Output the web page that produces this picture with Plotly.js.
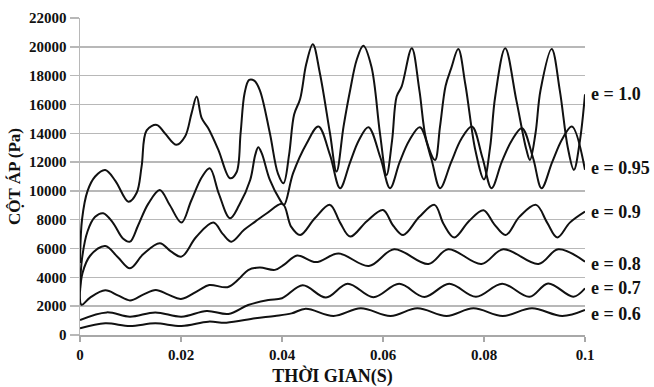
<!DOCTYPE html>
<html>
<head>
<meta charset="utf-8">
<script src="https://cdn.plot.ly/plotly-3.0.1.min.js"></script>
<style>html,body{margin:0;padding:0;background:#fff;}#chart{width:654px;height:387px;}</style>
</head>
<body>
<div id="chart"></div>
<script>
// ---- data ----
var seriesNames = ['e = 1.0', 'e = 0.95', 'e = 0.9', 'e = 0.8', 'e = 0.7', 'e = 0.6'];

var x10 = [0,0.0004,0.0015,0.003,0.005,0.007,0.0096,0.0112,0.0122,0.0132,0.0152,0.0168,0.0191,0.0208,0.0221,0.0231,0.0241,0.0254,0.0274,0.0297,0.031,0.0318,0.0326,0.0335,0.0345,0.0356,0.0376,0.0392,0.0403,0.0414,0.0424,0.0436,0.0448,0.0461,0.0475,0.0495,0.0508,0.0522,0.0535,0.0548,0.0561,0.0577,0.0594,0.0607,0.0618,0.0627,0.0637,0.0657,0.0672,0.0686,0.0703,0.0713,0.0724,0.0735,0.0749,0.0763,0.0783,0.0800,0.0812,0.0822,0.0842,0.0864,0.0884,0.0891,0.0902,0.0912,0.0934,0.0950,0.0966,0.0978,0.0990,0.1];
var y10 = [5000,8000,10000,11000,11450,10700,9250,9850,11700,14200,14580,14000,13200,13770,15400,16550,15050,14350,12850,10880,11300,14000,16800,17700,17650,17000,14000,11200,10530,12500,15300,16400,18800,20180,18170,14000,11340,14500,17000,19100,20070,18630,14000,11100,13500,16550,17250,19900,17000,13500,12150,14500,17300,18500,19840,17400,12800,10800,13000,16500,19900,16300,12850,12150,14000,17000,19840,17000,13000,11460,13500,16700];

var x095 = [0,0.0004,0.0015,0.003,0.0046,0.0065,0.0085,0.0099,0.0115,0.0135,0.0158,0.0178,0.0201,0.022,0.0242,0.0257,0.0275,0.0297,0.0315,0.0337,0.0347,0.0353,0.036,0.0376,0.0396,0.0404,0.0422,0.0449,0.0472,0.0495,0.0515,0.0535,0.0552,0.0571,0.0595,0.0614,0.0633,0.0652,0.0673,0.0695,0.0713,0.0735,0.0755,0.0776,0.0797,0.0815,0.0835,0.0855,0.0875,0.0897,0.0914,0.0935,0.0955,0.0974,0.1];
var y095 = [3200,5300,7200,8200,8450,7800,6700,6480,7600,9100,10070,9000,7800,9300,11000,11570,9800,8100,9000,10760,12500,13030,12600,10760,9380,9030,11230,13310,14470,12500,10190,12000,13500,14420,12300,10190,12000,13500,14420,12300,10190,12000,13600,14470,12300,10190,12000,13500,14350,12300,10190,12000,13600,14470,11460];

var x09 = [0,0.0005,0.002,0.005,0.0075,0.0099,0.0125,0.0158,0.018,0.0201,0.023,0.0264,0.0283,0.03,0.0325,0.0347,0.037,0.0401,0.0418,0.0436,0.0465,0.0495,0.0515,0.0535,0.0568,0.06,0.062,0.064,0.0672,0.0702,0.072,0.0741,0.077,0.0799,0.082,0.0843,0.087,0.0903,0.0925,0.0945,0.097,0.1];
var y09 = [3000,4300,5500,6180,5400,4630,5600,6370,5800,5440,6800,7800,7000,6480,7300,7870,8450,9100,7520,6940,8100,9030,7800,6830,7900,8680,7600,6940,8200,9030,7700,6770,7900,8660,7700,6940,8200,9030,7800,6770,7800,8565];

var x08 = [0,0.0003,0.002,0.005,0.0075,0.0099,0.0125,0.015,0.0175,0.02,0.0235,0.0256,0.0292,0.0315,0.0333,0.0356,0.0386,0.0405,0.043,0.0467,0.0512,0.0572,0.0622,0.069,0.0729,0.0795,0.0838,0.0908,0.0947,0.1];
var y08 = [3100,2100,2600,3100,2750,2400,2800,3130,2800,2500,3100,3470,3320,3900,4510,4680,4520,4900,5520,5060,5650,4790,5950,4930,5950,4930,5950,4930,5950,5090];

var x07 = [0,0.0053,0.0099,0.0149,0.0201,0.0251,0.0294,0.0333,0.0373,0.04,0.0441,0.0487,0.053,0.0581,0.0632,0.0682,0.0731,0.0784,0.0836,0.089,0.0927,0.0977,0.1];
var y07 = [1040,1570,1270,1570,1270,1670,1460,2080,2430,2550,3450,2600,3560,2620,3550,2640,3560,2650,3560,2650,3580,2660,3240];

var x06 = [0,0.005,0.0099,0.0149,0.0201,0.0254,0.029,0.0347,0.0386,0.0419,0.0447,0.0502,0.0556,0.0615,0.0668,0.0726,0.0779,0.0837,0.0895,0.0955,0.1];
var y06 = [460,810,625,810,625,926,856,1160,1320,1500,1820,1320,1850,1320,1850,1320,1850,1320,1850,1320,1740];

var xTickVals = [0, 0.02, 0.04, 0.06, 0.08, 0.1];
var xTickText = ['0', '0.02', '0.04', '0.06', '0.08', '0.1'];
var yTickVals = [0,2000,4000,6000,8000,10000,12000,14000,16000,18000,20000,22000];
var yTickText = ['0','2000','4000','6000','8000','10000','12000','14000','16000','18000','20000','22000'];

var xTitle = 'THỜI GIAN(S)';
var yTitle = 'CỘT ÁP (Pa)';

// ---- drawing ----
var xs = [x10, x095, x09, x08, x07, x06];
var ys = [y10, y095, y09, y08, y07, y06];
var labelShift = [0, 2, 0, -2, 0, -4];

var FONT = 'Liberation Serif';
var traces = [];
var annotations = [];
for (var i = 0; i < xs.length; i++) {
  traces.push({
    x: xs[i], y: ys[i], name: seriesNames[i], type: 'scatter', mode: 'lines',
    line: {color: '#111111', width: 2, shape: 'spline', smoothing: 1},
    hoverinfo: 'none'
  });
  annotations.push({
    x: xs[i][xs[i].length - 1], y: ys[i][ys[i].length - 1], xref: 'x', yref: 'y',
    text: '<b>' + seriesNames[i] + '</b>', showarrow: false, xanchor: 'left', yanchor: 'middle',
    xshift: 4, yshift: labelShift[i],
    font: {family: FONT, size: 18, color: '#111'}
  });
}

var layout = {
  width: 654, height: 387,
  margin: {l: 80, r: 69, t: 18, b: 52},
  showlegend: false,
  paper_bgcolor: '#ffffff', plot_bgcolor: '#ffffff',
  font: {family: FONT, size: 15, color: '#111', weight: 'bold'},
  xaxis: {
    range: [0, 0.1], tickvals: xTickVals, ticktext: xTickText.map(function (t) { return '<b>' + t + '</b>'; }),
    showgrid: false, zeroline: false, showline: true, linecolor: '#a8a8a8', linewidth: 1.5,
    ticks: 'outside', ticklen: 5, tickwidth: 1.5, tickcolor: '#a8a8a8',
    tickfont: {family: FONT, size: 15, color: '#111'},
    title: {text: '<b>' + xTitle + '</b>', standoff: 8, font: {family: FONT, size: 18, color: '#111'}},
    automargin: false
  },
  yaxis: {
    range: [0, 22000], tickvals: yTickVals, ticktext: yTickText.map(function (t) { return '<b>' + t + '</b>'; }),
    showgrid: true, gridcolor: '#b8b8b8', gridwidth: 1.5, zeroline: false,
    showline: true, linecolor: '#b8b8b8', linewidth: 1.5,
    ticks: 'outside', ticklen: 9, tickwidth: 1.5, tickcolor: '#b8b8b8',
    tickfont: {family: FONT, size: 15, color: '#111'},
    title: {text: '<b>' + yTitle + '</b>', standoff: 4, font: {family: FONT, size: 17, color: '#111'}},
    automargin: false
  },
  annotations: annotations
};

Plotly.newPlot('chart', traces, layout, {staticPlot: true, displayModeBar: false});
</script>
</body>
</html>
